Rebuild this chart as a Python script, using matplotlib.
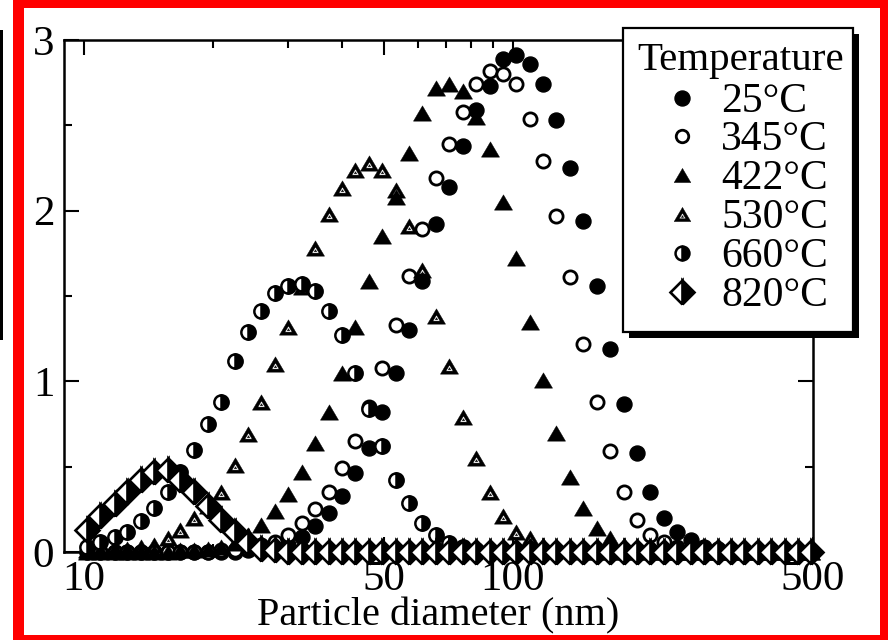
import matplotlib
matplotlib.use("Agg")
import matplotlib.pyplot as plt
from matplotlib.path import Path
from matplotlib.lines import Line2D
from matplotlib.patches import Rectangle
from matplotlib.ticker import NullFormatter

plt.rcParams['font.family'] = ['Liberation Serif', 'DejaVu Serif']

# ---------------- data ----------------
diameter_nm = [10.2, 10.9, 11.8, 12.6, 13.6, 14.6, 15.7, 16.8, 18.1, 19.5,
               20.9, 22.5, 24.1, 25.9, 27.9, 30.0, 32.2, 34.6, 37.2, 40.0,
               42.9, 46.1, 49.6, 53.3, 57.3, 61.5, 66.1, 71.0, 76.4, 82.0,
               88.2, 94.7, 101.8, 109.4, 117.6, 126.3, 135.8, 145.9, 156.8, 168.5,
               181.1, 194.6, 209.1, 224.7, 241.4, 259.5, 278.8, 299.6, 322.0, 346.0,
               371.8, 399.5, 429.4, 461.4, 495.8]

y_25C = [0, 0, 0, 0, 0, 0, 0, 0, 0, 0, 0, 0,
         0.01, 0.01, 0.02, 0.04, 0.09, 0.15, 0.23, 0.33, 0.46, 0.61,
         0.82, 1.05, 1.30, 1.59, 1.92, 2.14, 2.38, 2.59, 2.73, 2.89,
         2.91, 2.86, 2.74, 2.53, 2.25, 1.94, 1.56, 1.19, 0.87, 0.58,
         0.35, 0.20, 0.12, 0.07, 0.03, 0.02, 0.01,
         0, 0, 0, 0, 0, 0]

y_345C = [0, 0, 0, 0, 0, 0, 0, 0, 0, 0,
          0.01, 0.01, 0.02, 0.04, 0.06, 0.10, 0.17, 0.25, 0.35, 0.49,
          0.65, 0.85, 1.08, 1.33, 1.62, 1.89, 2.19, 2.39, 2.58, 2.74,
          2.82, 2.80, 2.74, 2.54, 2.29, 1.97, 1.61, 1.22, 0.88, 0.59,
          0.35, 0.19, 0.10, 0.06, 0.03, 0.01,
          0, 0, 0, 0, 0, 0, 0, 0, 0]

y_422C = [0, 0, 0, 0, 0, 0, 0,
          0.01, 0.01, 0.02, 0.03, 0.05, 0.10, 0.16, 0.24, 0.34, 0.47, 0.64,
          0.82, 1.05, 1.32, 1.59, 1.85, 2.08, 2.34, 2.57, 2.72, 2.74,
          2.70, 2.55, 2.36, 2.05, 1.72, 1.35, 1.01, 0.70, 0.44, 0.26,
          0.14, 0.08, 0.04, 0.02, 0.01,
          0, 0, 0, 0, 0, 0, 0, 0, 0, 0, 0, 0]

y_530C = [0.01, 0.01, 0.02, 0.02, 0.03, 0.04, 0.08, 0.13, 0.20, 0.27,
          0.35, 0.51, 0.69, 0.88, 1.10, 1.32, 1.55, 1.78, 1.98, 2.13,
          2.24, 2.28, 2.24, 2.12, 1.91, 1.65, 1.38, 1.09, 0.79, 0.55,
          0.35, 0.21, 0.12, 0.08, 0.04, 0.02, 0.01,
          0, 0, 0, 0, 0, 0, 0, 0, 0, 0, 0, 0, 0, 0, 0, 0, 0, 0]

y_660C = [0.03, 0.06, 0.09, 0.12, 0.18, 0.26, 0.35, 0.47, 0.60, 0.75,
          0.88, 1.12, 1.29, 1.41, 1.52, 1.56, 1.57, 1.53, 1.41, 1.27,
          1.05, 0.84, 0.62, 0.42, 0.29, 0.17, 0.10, 0.05, 0.03, 0.01,
          0, 0, 0, 0, 0, 0, 0, 0, 0, 0, 0, 0, 0, 0, 0, 0, 0, 0, 0, 0,
          0, 0, 0, 0, 0]

y_820C = [0.13, 0.21, 0.28, 0.35, 0.42, 0.47, 0.48, 0.42, 0.35, 0.27,
          0.19, 0.12, 0.05, 0.02, 0.01,
          0, 0, 0, 0, 0, 0, 0, 0, 0, 0, 0, 0, 0, 0, 0, 0, 0, 0, 0, 0,
          0, 0, 0, 0, 0, 0, 0, 0, 0, 0, 0, 0, 0, 0, 0, 0, 0, 0, 0, 0]

legend_labels = ['25°C', '345°C', '422°C', '530°C', '660°C', '820°C']
legend_title = 'Temperature'
x_ticks = [10, 50, 100, 500]
x_tick_labels = ['10', '50', '100', '500']
x_minor = [20, 30, 40, 60, 70, 80, 90, 200, 300, 400]
y_ticks = [0, 1, 2, 3]
y_tick_labels = ['0', '1', '2', '3']
y_minor = [0.5, 1.5, 2.5]
x_label = 'Particle diameter (nm)'

# ---------------- custom triangle markers ----------------
def tri_path(hole):
    top, bl, br = (0.0, 0.85), (-1.0, -0.85), (1.0, -0.85)
    verts = [top, bl, br, (0, 0)]
    codes = [Path.MOVETO, Path.LINETO, Path.LINETO, Path.CLOSEPOLY]
    if hole:
        cy = (0.85 - 0.85 - 0.85) / 3.0

        def sc(p, s):
            return (s * p[0], cy + s * (p[1] - cy))
        # inner hole (reverse orientation)
        verts += [sc(top, 0.40), sc(br, 0.40), sc(bl, 0.40), (0, 0)]
        codes += [Path.MOVETO, Path.LINETO, Path.LINETO, Path.CLOSEPOLY]
        # small dot
        verts += [sc(top, 0.13), sc(bl, 0.13), sc(br, 0.13), (0, 0)]
        codes += [Path.MOVETO, Path.LINETO, Path.LINETO, Path.CLOSEPOLY]
    return Path(verts, codes)

TRI_FILLED = tri_path(False)
TRI_DOT = tri_path(True)

styles = [
    dict(marker='o', ms=10.8, mfc='black', mec='black', mew=1.0),
    dict(marker='o', ms=9.5, mfc='white', mec='black', mew=2.0),
    dict(marker=TRI_FILLED, ms=13, mfc='black', mec='black', mew=0.3),
    dict(marker=TRI_DOT, ms=13, mfc='black', mec='black', mew=0.3),
    dict(marker='o', ms=10.3, fillstyle='right', mfc='black', mfcalt='white',
         mec='black', mew=1.8),
    dict(marker='D', ms=12.3, fillstyle='right', mfc='black', mfcalt='white',
         mec='black', mew=1.9),
]
series = [y_25C, y_345C, y_422C, y_530C, y_660C, y_820C]

W, H = 888, 640


def fx(x):
    return x / W


def fy(y):
    return 1 - y / H


fig = plt.figure(figsize=(8.88, 6.4), dpi=100)
fig.patch.set_facecolor('white')
ax = fig.add_axes([fx(64), fy(552), (813 - 64) / W, (552 - 40) / H])

draw_order = [1, 0, 2, 3, 4, 5]
for k in draw_order:
    ax.plot(diameter_nm, series[k], linestyle='none', clip_on=False,
            zorder=3 + k, **styles[k])

ax.set_xscale('log')
ax.set_xlim(9.0, 500)
ax.set_ylim(0, 3)
ax.set_xticks(x_ticks)
ax.set_xticklabels(x_tick_labels)
ax.set_xticks(x_minor, minor=True)
ax.xaxis.set_minor_formatter(NullFormatter())
ax.set_yticks(y_ticks)
ax.set_yticklabels(y_tick_labels)
ax.set_yticks(y_minor, minor=True)

for s in ax.spines.values():
    s.set_linewidth(1.8)
    s.set_zorder(2)

ax.tick_params(which='major', direction='in', length=11, width=1.5,
               top=True, right=True, labelsize=31)
ax.tick_params(which='minor', direction='in', length=6, width=1.5,
               top=True, right=True)
ax.tick_params(axis='x', which='major', pad=6)
ax.tick_params(axis='y', which='major', pad=7)
ax.set_xlabel(x_label, fontsize=29, labelpad=-1)

# ---------------- legend box (drawn in figure pixels) ----------------
bx0, by0, bx1, by1 = 623, 28, 853, 332
fig.add_artist(Rectangle((fx(bx0 + 6), fy(by1 + 6)), (bx1 - bx0) / W, (by1 - by0) / H,
                         transform=fig.transFigure, facecolor='black',
                         edgecolor='black', lw=0, zorder=20))
fig.add_artist(Rectangle((fx(bx0), fy(by1)), (bx1 - bx0) / W, (by1 - by0) / H,
                         transform=fig.transFigure, facecolor='white',
                         edgecolor='black', lw=1.6, zorder=21))
fig.text(fx(741), fy(70), legend_title, ha='center', va='baseline',
         fontsize=29.5, zorder=22)
row_marker_y = [98, 136, 175, 214, 253, 292]
legend_ms = [10.8, 9.0, 12, 12, 10.0, 12.0]
for k, lab in enumerate(legend_labels):
    st = dict(styles[k])
    st['ms'] = legend_ms[k]
    fig.add_artist(Line2D([fx(682)], [fy(row_marker_y[k])], transform=fig.transFigure,
                          linestyle='none', zorder=22, **st))
    fig.text(fx(721), fy(row_marker_y[k] + 14), lab, ha='left', va='baseline',
             fontsize=30, zorder=22)

# ---------------- red frame and left black bar ----------------
red = '#ff0000'
for (x0, y0, x1, y1) in [(13, 0, 24, 640), (13, 0, 888, 8),
                         (880, 0, 888, 640), (13, 635, 888, 640)]:
    fig.add_artist(Rectangle((fx(x0), fy(y1)), (x1 - x0) / W, (y1 - y0) / H,
                             transform=fig.transFigure, facecolor=red,
                             lw=0, zorder=30))
fig.add_artist(Rectangle((fx(0), fy(340)), 3 / W, (340 - 30) / H,
                         transform=fig.transFigure, facecolor='black',
                         lw=0, zorder=30))

fig.savefig('out.png', dpi=100)
